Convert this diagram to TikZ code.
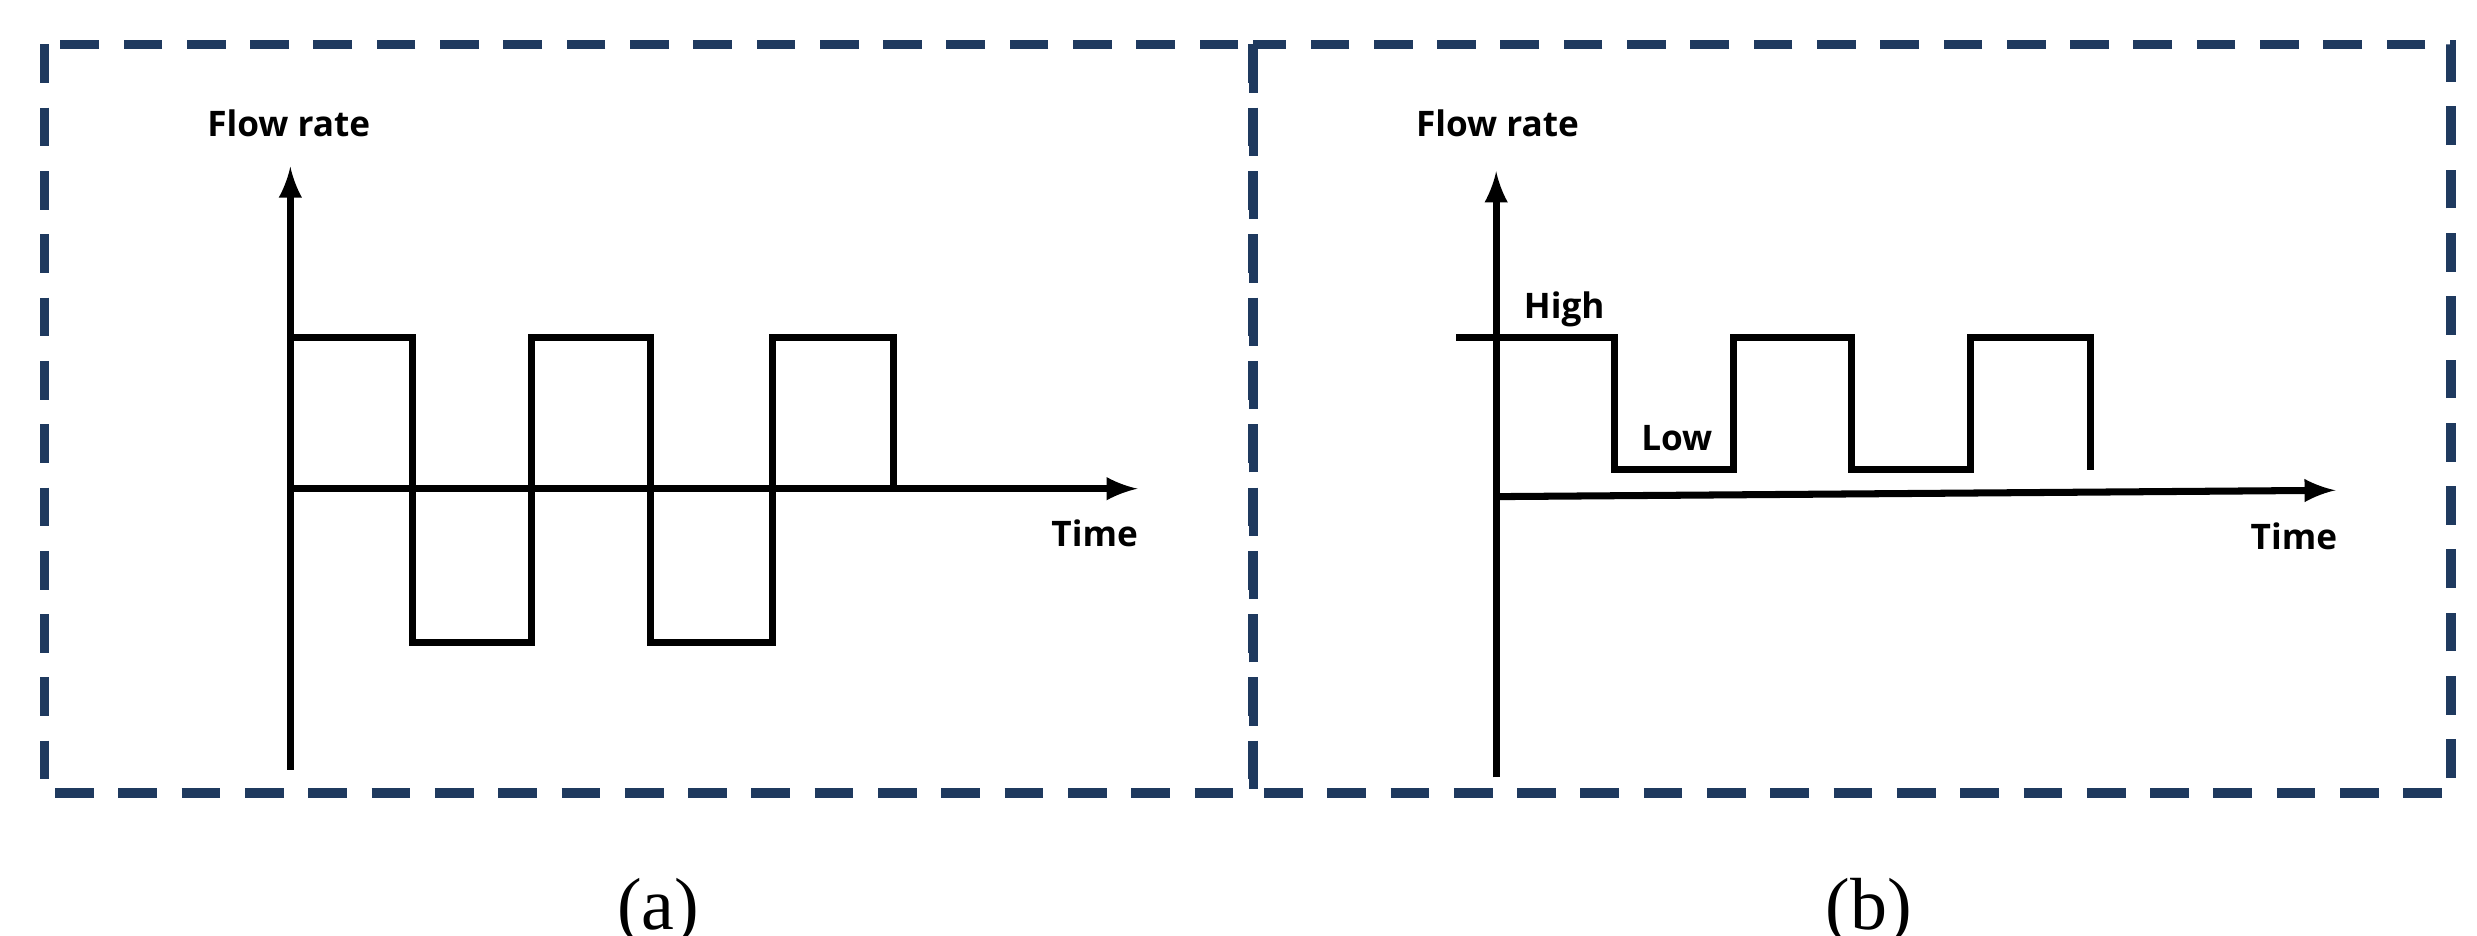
\documentclass[tikz,border=0pt]{standalone}
\usepackage{fontspec}
\setmainfont{Liberation Serif}
\newfontfamily\lab{Open Sans}[BoldFont={* Bold}]
\begin{document}
\begin{tikzpicture}[x=0.01cm,y=-0.01cm,
  ln/.style={line width=2pt},
  ax/.style={line width=2pt,-latex},
  box/.style={draw=navy,line width=2.8pt,dash pattern=on 11pt off 7pt},
  lbl/.style={font=\lab\bfseries\fontsize{10}{12}\selectfont,inner sep=0},
  captxt/.style={font=\fontsize{21}{24}\selectfont,inner sep=0}]
\definecolor{navy}{HTML}{1F3A5F}
\useasboundingbox (0,0) rectangle (2477,935);
\begin{scope}[xscale=1.5864,yscale=1.5864]
\coordinate (A1) at (28,28); \coordinate (A2) at (790,500);
\coordinate (B2) at (1545,500);
\draw[box] (A1) rectangle (A2);
\draw[box] (790,28) rectangle (B2);
% panel a
\coordinate (ay0) at (183,485); \coordinate (ay1) at (183,105);
\coordinate (ax0) at (183,308); \coordinate (ax1) at (717,308);
\draw[ax] (ay0) -- (ay1);
\draw[ax] (ax0) -- (ax1);
\draw[ln] (183,213) -- (260,213) -- (260,405) -- (335,405) -- (335,213) -- (410,213) -- (410,405) -- (487,405) -- (487,213) -- (563,213) -- (563,308);
\node[lbl] (fa) at (182,78) {Flow rate};
\node[lbl] (ta) at (690,336) {Time};
\node[captxt] (ca) at (415,575) {(a)};
% panel b
\coordinate (by0) at (943,490); \coordinate (by1) at (943,108);
\coordinate (bx0) at (943,313); \coordinate (bx1) at (1472,309);
\draw[ax] (by0) -- (by1);
\draw[ax] (bx0) -- (bx1);
\draw[ln] (918,213) -- (1018,213) -- (1018,296) -- (1093,296) -- (1093,213) -- (1167,213) -- (1167,296) -- (1242,296) -- (1242,213) -- (1318,213) -- (1318,296);
\node[lbl] (hi) at (986,195) {High};
\node[lbl] (lo) at (1057,276) {Low};
\node[lbl] (fb) at (944,78) {Flow rate};
\node[lbl] (tb) at (1446,338) {Time};
\node[captxt] (cb) at (1178,575) {(b)};
\end{scope}
\end{tikzpicture}
\end{document}
